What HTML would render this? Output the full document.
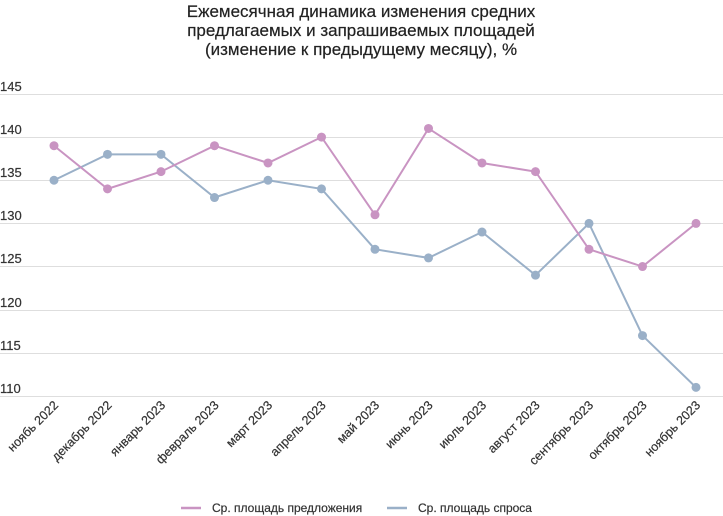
<!DOCTYPE html><html><head><meta charset="utf-8"><style>body{margin:0;background:#fff}svg{display:block;font-family:"Liberation Sans",Arial,sans-serif}</style></head><body>
<svg width="723" height="516" viewBox="0 0 723 516">
<g text-anchor="middle" font-size="17" fill="#222" stroke="#222" stroke-width="0.2">
<text x="361" y="17">Ежемесячная динамика изменения средних</text>
<text x="361" y="36">предлагаемых и запрашиваемых площадей</text>
<text x="361" y="55">(изменение к предыдущему месяцу), %</text>
</g>
<g stroke="#dedede" stroke-width="1">
<line x1="0" x2="723" y1="94.5" y2="94.5"/><line x1="0" x2="723" y1="137.5" y2="137.5"/><line x1="0" x2="723" y1="180.5" y2="180.5"/><line x1="0" x2="723" y1="223.5" y2="223.5"/><line x1="0" x2="723" y1="266.5" y2="266.5"/><line x1="0" x2="723" y1="310.5" y2="310.5"/><line x1="0" x2="723" y1="353.5" y2="353.5"/><line x1="0" x2="723" y1="396.5" y2="396.5"/>
</g>
<g font-size="13" fill="#333" stroke="#333" stroke-width="0.2">
<text x="0" y="91">145</text><text x="0" y="134">140</text><text x="0" y="177">135</text><text x="0" y="220">130</text><text x="0" y="263">125</text><text x="0" y="307">120</text><text x="0" y="350">115</text><text x="0" y="393">110</text>
</g>
<g id="c"></g>
<g font-size="12.5" fill="#333" stroke="#333" stroke-width="0.2" text-anchor="end" id="xl"></g>
<line x1="181" x2="201" y1="508" y2="508" stroke="#c994c2" stroke-width="2.5"/>
<text x="212" y="512" font-size="12" fill="#333" stroke="#333" stroke-width="0.2">Ср. площадь предложения</text>
<line x1="387" x2="407" y1="508" y2="508" stroke="#9ab0c8" stroke-width="2.5"/>
<text x="418" y="512" font-size="12" fill="#333" stroke="#333" stroke-width="0.2">Ср. площадь спроса</text>
</svg>
<script>
var P=[139,134,136,139,137,140,131,141,137,136,127,125,130],B=[135,138,138,133,135,134,127,126,129,124,130,117,111];
var L=["ноябь 2022","декабрь 2022","январь 2023","февраль 2023","март 2023","апрель 2023","май 2023","июнь 2023","июль 2023","август 2023","сентябрь 2023","октябрь 2023","ноябрь 2023"];
var ns="http://www.w3.org/2000/svg",g=document.getElementById("c"),xl=document.getElementById("xl");
function X(i){return 54+i*53.5}function Y(v){return 396-(v-110)*8.63}
[[B,"#9ab0c8"],[P,"#c994c2"]].forEach(function(s){var pl=document.createElementNS(ns,"polyline");pl.setAttribute("points",s[0].map(function(v,i){return X(i)+","+Y(v)}).join(" "));pl.setAttribute("fill","none");pl.setAttribute("stroke",s[1]);pl.setAttribute("stroke-width","2");g.appendChild(pl);s[0].forEach(function(v,i){var c=document.createElementNS(ns,"circle");c.setAttribute("cx",X(i));c.setAttribute("cy",Y(v));c.setAttribute("r","4.5");c.setAttribute("fill",s[1]);g.appendChild(c)})});
L.forEach(function(t,i){var e=document.createElementNS(ns,"text");var x=X(i)+5,y=406;e.setAttribute("x",x);e.setAttribute("y",y);e.setAttribute("transform","rotate(-45 "+x+" "+y+")");e.textContent=t;xl.appendChild(e)});
</script>
</body></html>
